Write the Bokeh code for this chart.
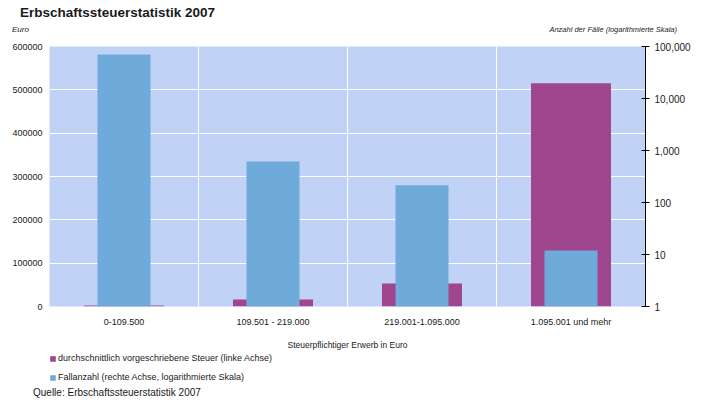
from bokeh.plotting import figure
from bokeh.layouts import column
from bokeh.models import (FactorRange, Range1d, LogScale, LogAxis, NumeralTickFormatter,
                          FixedTicker, Span, Legend, LegendItem, ColumnDataSource, Div)
from bokeh.embed import file_html
from bokeh.resources import INLINE

categories = ["0-109.500", "109.501 - 219.000", "219.001-1.095.000", "1.095.001 und mehr"]
steuer = [2500, 16000, 53000, 515000]
faelle = [70000, 614, 215, 12]
left_ticks = [0, 100000, 200000, 300000, 400000, 500000, 600000]
right_ticks = [1, 10, 100, 1000, 10000, 100000]

title_text = "Erbschaftssteuerstatistik 2007"
left_unit = "Euro"
right_unit = "Anzahl der Fälle (logarithmierte Skala)"
x_title = "Steuerpflichtiger Erwerb in Euro"
legend_labels = ["durchschnittlich vorgeschriebene Steuer (linke Achse)",
                 "Fallanzahl (rechte Achse, logarithmierte Skala)"]
source_text = "Quelle: Erbschaftssteuerstatistik 2007"

FONT = "Liberation Sans"
PURPLE = "#A0468F"
BLUE = "#6FABDA"
BG = "#C0D3F7"
TXT = "#1a1a1a"

src = ColumnDataSource(dict(cat=categories, steuer=steuer, faelle=faelle))

p = figure(x_range=FactorRange(*categories), y_range=Range1d(0, 600000),
           width=701, height=312, output_backend="svg", toolbar_location=None,
           min_border_left=49, min_border_right=56, min_border_top=6, min_border_bottom=46)
p.extra_y_ranges = {"log": Range1d(1, 100000)}
p.extra_y_scales = {"log": LogScale()}
p.background_fill_color = BG
p.border_fill_color = "white"
p.outline_line_color = None

r1 = p.vbar(x="cat", top="steuer", bottom=0, width=0.537, source=src,
            fill_color=PURPLE, line_color=None)
r2 = p.vbar(x="cat", top="faelle", bottom=1, width=0.356, source=src,
            y_range_name="log", fill_color=BLUE, line_color=None)

# grids
p.ygrid.ticker = FixedTicker(ticks=left_ticks)
p.ygrid.grid_line_color = "white"
p.ygrid.grid_line_width = 1
p.xgrid.grid_line_color = None
for loc in [1, 2, 3]:
    p.add_layout(Span(location=loc, dimension="height", line_color="white", line_width=1))

# left axis
ya = p.yaxis[0]
ya.ticker = FixedTicker(ticks=left_ticks)
ya.formatter = NumeralTickFormatter(format="0")
ya.axis_line_color = None
ya.major_tick_line_color = None
ya.major_tick_out = 0
ya.major_tick_in = 0
ya.minor_tick_line_color = None
ya.major_label_standoff = 7
ya.major_label_text_font = FONT
ya.major_label_text_font_size = "9px"
ya.major_label_text_color = TXT

# right axis
ra = LogAxis(y_range_name="log", ticker=FixedTicker(ticks=right_ticks),
             formatter=NumeralTickFormatter(format="0,0"))
ra.axis_line_color = "black"
ra.major_tick_line_color = "black"
ra.major_tick_in = 4
ra.major_tick_out = 4
ra.minor_tick_line_color = None
ra.major_label_standoff = 5
ra.major_label_text_font = FONT
ra.major_label_text_font_size = "10px"
ra.major_label_text_color = TXT
p.add_layout(ra, "right")

# x axis
xa = p.xaxis[0]
xa.axis_line_color = None
xa.major_tick_line_color = None
xa.major_tick_out = 0
xa.minor_tick_line_color = None
xa.major_label_standoff = 10
xa.major_label_text_font = FONT
xa.major_label_text_font_size = "9px"
xa.major_label_text_color = TXT
xa.axis_label = x_title
xa.axis_label_standoff = 10
xa.axis_label_text_font = FONT
xa.axis_label_text_font_size = "8.5px"
xa.axis_label_text_font_style = "normal"
xa.axis_label_text_color = TXT
p.margin = 0

# legend in its own small figure (proxy bars of zero size, outside its y range)
lg = figure(width=701, height=34, output_backend="svg", toolbar_location=None,
            x_range=FactorRange(*categories), y_range=Range1d(-2, -1),
            min_border_left=45, min_border_right=0, min_border_top=0, min_border_bottom=0)
lg.axis.visible = False
lg.grid.grid_line_color = None
lg.outline_line_color = None
lg.background_fill_color = "white"
lg.border_fill_color = "white"
lg.margin = 0
lr1 = lg.vbar(x="cat", top=0, bottom=0, width=0, source=src,
              fill_color=PURPLE, line_color=None)
lr2 = lg.vbar(x="cat", top=0, bottom=0, width=0, source=src,
              fill_color=BLUE, line_color=None)
legend = Legend(items=[LegendItem(label=legend_labels[0], renderers=[lr1]),
                       LegendItem(label=legend_labels[1], renderers=[lr2])],
                location=(0, 3), orientation="vertical")
legend.background_fill_alpha = 0
legend.border_line_color = None
legend.padding = 0
legend.margin = 0
legend.spacing = 7
legend.glyph_width = 7
legend.glyph_height = 7
legend.label_height = 12
legend.label_standoff = 2
legend.label_text_font = FONT
legend.label_text_font_size = "9px"
legend.label_text_color = TXT
lg.add_layout(legend, "center")

FF = "font-family:'Liberation Sans',Arial,sans-serif;color:%s;" % TXT
top_html = (
    '<div style="position:relative;width:701px;height:40px;%s">' % FF
    + '<span style="position:absolute;left:20px;top:6px;font-size:13.5px;font-weight:bold;line-height:1;white-space:nowrap;">%s</span>' % title_text
    + '<span style="position:absolute;left:12px;top:26px;font-size:8px;font-style:italic;line-height:1;white-space:nowrap;">%s</span>' % left_unit
    + '<span style="position:absolute;right:24px;top:26px;font-size:7.5px;font-style:italic;line-height:1;white-space:nowrap;">%s</span>' % right_unit
    + '</div>')
bottom_html = (
    '<div style="position:relative;width:701px;height:12px;%s">' % FF
    + '<span style="position:absolute;left:33px;top:2px;font-size:10px;line-height:1;white-space:nowrap;">%s</span>' % source_text
    + '</div>')

div_top = Div(text=top_html, width=701, height=40, margin=0)
div_bottom = Div(text=bottom_html, width=701, height=12, margin=0)

layout = column(div_top, p, lg, div_bottom, spacing=0, margin=0)

open("out.html", "w").write(file_html(layout, INLINE))
